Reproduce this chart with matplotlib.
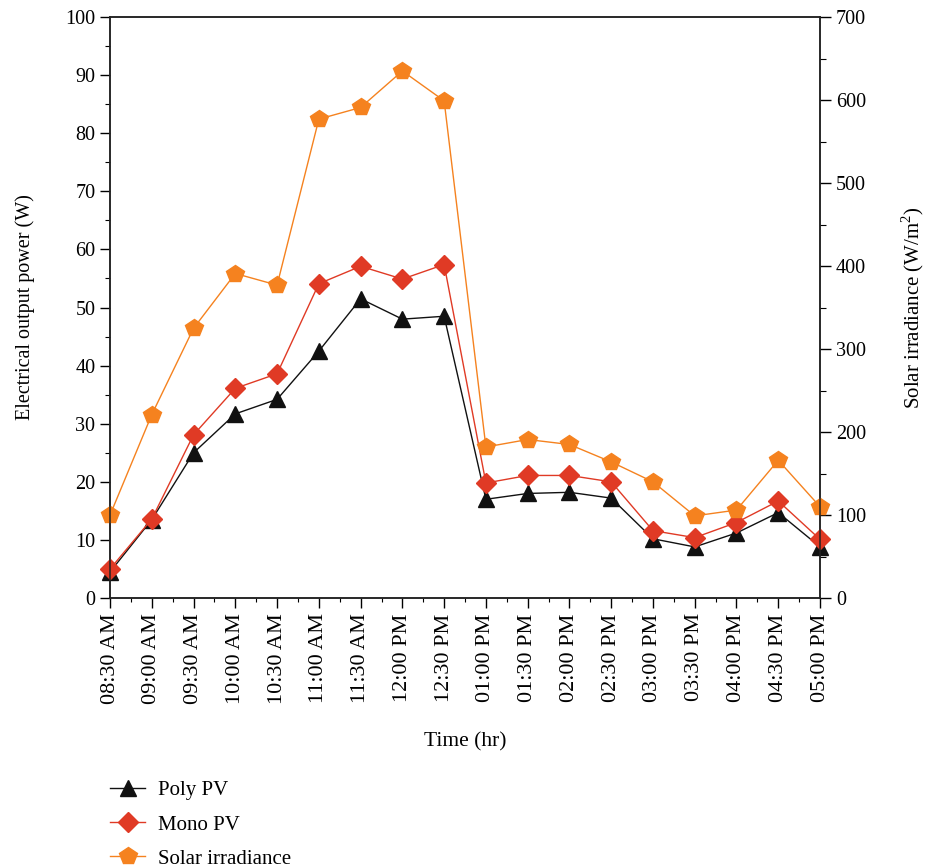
import numpy as np
import matplotlib
matplotlib.use("Agg")
import matplotlib.pyplot as plt
from matplotlib.ticker import MultipleLocator

plt.rcParams['font.family'] = ['Liberation Serif', 'DejaVu Serif']
plt.rcParams['mathtext.fontset'] = 'custom'
plt.rcParams['mathtext.rm'] = 'Liberation Serif'

# Data
times = ["08:30 AM", "09:00 AM", "09:30 AM", "10:00 AM", "10:30 AM", "11:00 AM",
         "11:30 AM", "12:00 PM", "12:30 PM", "01:00 PM", "01:30 PM", "02:00 PM",
         "02:30 PM", "03:00 PM", "03:30 PM", "04:00 PM", "04:30 PM", "05:00 PM"]
poly_pv = [4.5, 13.5, 25.0, 31.7, 34.2, 42.5, 51.5, 48.0, 48.5,
           17.0, 18.0, 18.2, 17.2, 10.2, 8.8, 11.2, 14.7, 8.8]
mono_pv = [5.0, 13.6, 28.1, 36.1, 38.6, 54.1, 57.1, 54.9, 57.4,
           19.8, 21.1, 21.1, 20.0, 11.6, 10.4, 13.0, 16.7, 10.1]
irradiance = [100, 221, 325, 391, 377, 577, 591, 635, 599,
              182, 191, 185, 164, 140, 99, 106, 166, 110]

x = np.arange(len(times))

fig = plt.figure(figsize=(9.27, 8.68), dpi=100)
ax = fig.add_axes([0.1187, 0.311, 0.7659, 0.6694])
ax2 = ax.twinx()

h1, = ax.plot(x, poly_pv, color='#111111', lw=1.0, marker='^', ms=12,
              label='Poly PV', zorder=3, clip_on=False)
h2, = ax.plot(x, mono_pv, color='#e03a25', lw=1.0, marker='D', ms=9.7,
              label='Mono PV', zorder=4, clip_on=False)
h3, = ax2.plot(x, irradiance, color='#f5821f', lw=1.0, marker='p', ms=13,
               label='Solar irradiance', clip_on=False)

ax.set_xlim(0, len(times) - 1)
ax.set_ylim(0, 100)
ax2.set_ylim(0, 700)
ax.set_xticks(x)
ax.set_xticklabels(times, rotation=90)
ax.xaxis.set_minor_locator(MultipleLocator(0.5))
ax.yaxis.set_major_locator(MultipleLocator(10))
ax.yaxis.set_minor_locator(MultipleLocator(5))
ax2.yaxis.set_major_locator(MultipleLocator(100))
ax2.yaxis.set_minor_locator(MultipleLocator(50))

ax.tick_params(axis='x', which='major', direction='out', length=7, width=1, labelsize=16, pad=4)
ax.tick_params(axis='x', which='minor', direction='out', length=3, width=0.8)
ax.tick_params(axis='y', which='major', direction='out', length=7, width=1, labelsize=14.5)
ax.tick_params(axis='y', which='minor', direction='out', length=3.5, width=0.8)
ax2.tick_params(axis='y', which='major', direction='out', length=8, width=1, labelsize=14.5)
ax2.tick_params(axis='y', which='minor', direction='out', length=4, width=0.8)

for a in (ax, ax2):
    for s in a.spines.values():
        s.set_linewidth(1.1)
        s.set_color('#222222')

ax.set_xlabel('Time (hr)', fontsize=15.5, labelpad=20)
ax.set_ylabel('Electrical output power (W)', fontsize=14.5, labelpad=22)
ax2.set_ylabel('Solar irradiance (W/m$^2$)', fontsize=15, labelpad=24)

fig.legend(handles=[h1, h2, h3], loc='upper left', bbox_to_anchor=(0.1097, 0.110),
           frameon=False, fontsize=15, handlelength=1.7, labelspacing=0.7,
           handletextpad=0.6, borderaxespad=0)

fig.savefig('out.png', dpi=100)
